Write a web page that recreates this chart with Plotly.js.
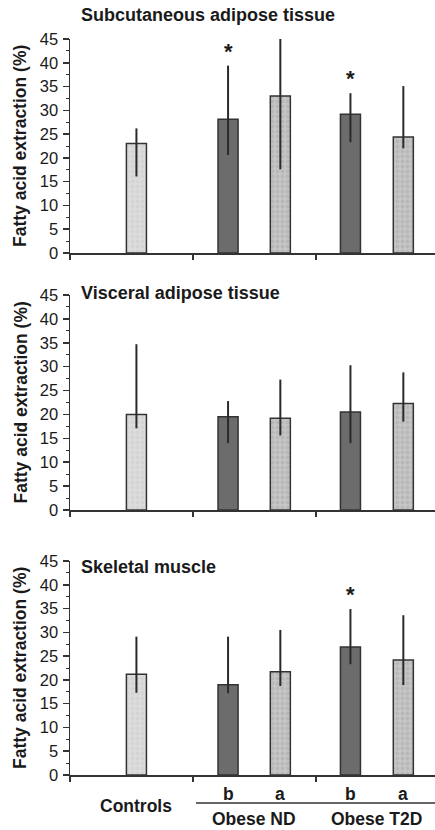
<!DOCTYPE html>
<html>
<head>
<meta charset="utf-8">
<script src="https://cdn.plot.ly/plotly-3.0.1.min.js"></script>
<style>html,body{margin:0;padding:0;background:#fff;}#chart{width:435px;height:830px;}</style>
</head>
<body>
<div id="chart"></div>
<script>
// ---- data ----
const groups = ["Controls", "Obese ND", "Obese T2D"];
const barLabels = ["", "b", "a", "b", "a"];
const barKind = ["control", "b", "a", "b", "a"];
const panelTitles = ["Subcutaneous adipose tissue", "Visceral adipose tissue", "Skeletal muscle"];
const yTitle = "Fatty acid extraction (%)";

const subcutMean  = [23.0, 28.1, 33.0, 29.2, 24.4];
const subcutUpper = [26.2, 39.4, 45.3, 33.6, 35.1];
const subcutLower = [16.1, 20.6, 17.6, 23.3, 22.0];
const subcutSig   = [false, true, false, true, false];

const visceralMean  = [20.0, 19.5, 19.2, 20.5, 22.3];
const visceralUpper = [34.7, 22.8, 27.3, 30.3, 28.8];
const visceralLower = [17.1, 14.0, 15.6, 14.0, 18.5];
const visceralSig   = [false, false, false, false, false];

const muscleMean  = [21.2, 19.0, 21.7, 26.9, 24.2];
const muscleUpper = [29.1, 29.1, 30.5, 34.9, 33.6];
const muscleLower = [17.3, 17.2, 18.7, 23.3, 18.9];
const muscleSig   = [false, false, false, true, false];

const yTicks = [0, 5, 10, 15, 20, 25, 30, 35, 40, 45];

// ---- layout constants ----
const W = 435, H = 830;
const xPos = [0.54, 1.285, 1.71, 2.28, 2.71];
const barW = 0.163;
const panelPx = [[39, 253], [295, 510], [561, 775]]; // top(45), bottom(0) in px
const FONT = "Liberation Sans, Arial, Helvetica, sans-serif";
const TXT = "#1a1a1a";
const LINE = "#333333";

const kindStyle = {
  control: {color: "#dcdcdc", pattern: {shape: ".", fgcolor: "#cbcbcb", size: 5, solidity: 0.45, fillmode: "overlay"}},
  b:       {color: "#6c6c6c", pattern: {shape: ""}},
  a:       {color: "#c6c6c6", pattern: {shape: ".", fgcolor: "#aaaaaa", size: 5, solidity: 0.45, fillmode: "overlay"}}
};

const panels = [
  {mean: subcutMean, up: subcutUpper, lo: subcutLower, sig: subcutSig},
  {mean: visceralMean, up: visceralUpper, lo: visceralLower, sig: visceralSig},
  {mean: muscleMean, up: muscleUpper, lo: muscleLower, sig: muscleSig}
];

const py = p => 1 - p / H;
const traces = [];
const annotations = [];
const layout = {
  width: W, height: H,
  margin: {l: 0, r: 0, t: 0, b: 0},
  paper_bgcolor: "#fff", plot_bgcolor: "rgba(0,0,0,0)",
  showlegend: false,
  font: {family: FONT, color: TXT},
  bargap: 0, barmode: "overlay",
  shapes: [],
  annotations: annotations
};

panels.forEach((p, i) => {
  const n = i === 0 ? "" : String(i + 1);
  const xa = "x" + n, ya = "y" + n;
  ["control", "b", "a"].forEach(kind => {
    const idx = barKind.map((k, j) => k === kind ? j : -1).filter(j => j >= 0);
    const st = kindStyle[kind];
    traces.push({
      type: "bar",
      x: idx.map(j => xPos[j]), y: idx.map(j => p.mean[j]), width: barW,
      xaxis: xa, yaxis: ya,
      cliponaxis: false,
      marker: {color: st.color, line: {color: LINE, width: 1.5}, pattern: st.pattern},
      error_y: {
        type: "data", symmetric: false,
        array: idx.map(j => p.up[j] - p.mean[j]),
        arrayminus: idx.map(j => p.mean[j] - p.lo[j]),
        color: "#2a2a2a", thickness: 2, width: 0
      },
      hoverinfo: "skip"
    });
  });
  const [top, bot] = panelPx[i];
  layout["xaxis" + n] = {
    domain: [70 / W, 1], range: [0, (W - 70) / 123], anchor: ya,
    showgrid: false, zeroline: false, showline: true, linecolor: LINE, linewidth: 1.5,
    tickmode: "array", tickvals: [0, 1, 2], ticks: "outside", ticklen: 5, tickwidth: 1.5, tickcolor: LINE,
    showticklabels: false, fixedrange: true
  };
  layout["yaxis" + n] = {
    domain: [py(bot), py(top)], range: [0, 45], anchor: xa,
    showgrid: false, zeroline: false, showline: true, linecolor: LINE, linewidth: 1.5,
    tickmode: "array", tickvals: yTicks, ticks: "outside", ticklen: 6, tickwidth: 1.5, tickcolor: LINE,
    minor: {dtick: 2.5, tick0: 0, ticks: "outside", ticklen: 3, tickwidth: 1, tickcolor: LINE},
    tickfont: {family: FONT, size: 16.5, color: TXT}, ticklabelstandoff: 1,
    fixedrange: true
  };
  // y title
  annotations.push({
    xref: "paper", yref: "paper", x: 20 / W, y: py((top + bot) / 2),
    text: "<b>" + yTitle + "</b>", textangle: -90, showarrow: false,
    xanchor: "center", yanchor: "middle",
    font: {family: FONT, size: 17.5, color: TXT}
  });
  // panel title
  const titleY = [15, 293, 567][i];
  annotations.push({
    xref: "paper", yref: "paper", x: 79 / W, y: py(titleY),
    text: "<b>" + panelTitles[i] + "</b>", showarrow: false,
    xanchor: "left", yanchor: "middle",
    font: {family: FONT, size: 18, color: TXT}
  });
  // significance asterisks
  p.sig.forEach((s, k) => {
    if (!s) return;
    annotations.push({
      xref: xa, yref: ya, x: xPos[k], y: p.up[k],
      text: "<b>*</b>", showarrow: false, xanchor: "center", yanchor: "bottom",
      yshift: 0, font: {family: FONT, size: 22, color: TXT}
    });
  });
});

// bottom category labels
barLabels.forEach((lab, k) => {
  if (!lab) return;
  annotations.push({
    xref: "x3", yref: "paper", x: xPos[k], y: py(794),
    text: "<b>" + lab + "</b>", showarrow: false, xanchor: "center", yanchor: "middle",
    font: {family: FONT, size: 17.5, color: TXT}
  });
});
annotations.push({
  xref: "x3", yref: "paper", x: xPos[0], y: py(806),
  text: "<b>" + groups[0] + "</b>", showarrow: false, xanchor: "center", yanchor: "middle",
  font: {family: FONT, size: 17.5, color: TXT}
});
annotations.push({
  xref: "x3", yref: "paper", x: (xPos[1] + xPos[2]) / 2, y: py(819),
  text: "<b>" + groups[1] + "</b>", showarrow: false, xanchor: "center", yanchor: "middle",
  font: {family: FONT, size: 17.5, color: TXT}
});
annotations.push({
  xref: "x3", yref: "paper", x: (xPos[3] + xPos[4]) / 2, y: py(819),
  text: "<b>" + groups[2] + "</b>", showarrow: false, xanchor: "center", yanchor: "middle",
  font: {family: FONT, size: 17.5, color: TXT}
});
layout.shapes.push({
  type: "line", xref: "paper", yref: "paper",
  x0: 196 / W, x1: 1, y0: py(803), y1: py(803),
  line: {color: LINE, width: 1.5}
});

Plotly.newPlot("chart", traces, layout, {displayModeBar: false, staticPlot: true});
</script>
</body>
</html>
